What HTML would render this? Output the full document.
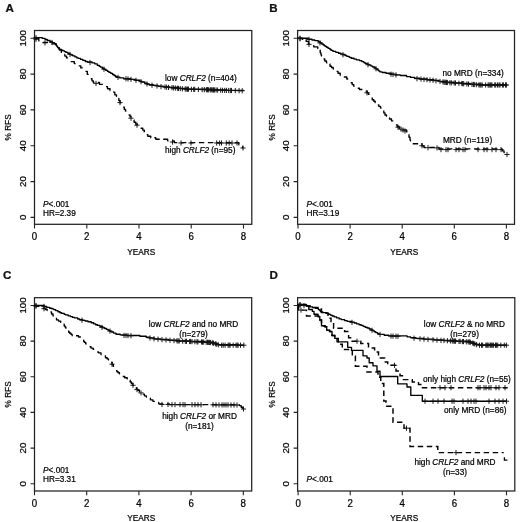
<!DOCTYPE html>
<html><head><meta charset="utf-8"><title>Figure</title>
<style>
html,body{margin:0;padding:0;background:#fff;}
svg{display:block;filter:grayscale(1) blur(0.3px);}
text{font-family:"Liberation Sans",sans-serif;fill:#000;stroke:#000;stroke-width:0.22px;}
.t{font-size:9.7px;}
.s{font-size:8.25px;}
.i{font-style:italic;}
.b{font-size:11.6px;font-weight:bold;fill:#111;}
.sol{fill:none;stroke:#000;stroke-width:1.35;stroke-linejoin:round;}
.das{fill:none;stroke:#000;stroke-width:1.45;stroke-dasharray:5.4 3.6;}
.cm{fill:none;stroke:#111;stroke-width:0.95;}
</style></head>
<body>
<svg width="520" height="522" viewBox="0 0 520 522">
<rect width="520" height="522" fill="#fff"/>
<rect x="34.5" y="30.5" width="217.3" height="193.8" fill="none" stroke="#222" stroke-width="1.25"/>
<path d="M34.5,224.3v4.2M86.8,224.3v4.2M139.0,224.3v4.2M191.2,224.3v4.2M243.5,224.3v4.2M34.5,217.4h-4M34.5,181.6h-4M34.5,145.8h-4M34.5,109.9h-4M34.5,74.1h-4M34.5,38.3h-4" stroke="#222" stroke-width="1.1" fill="none"/>
<text transform="translate(34.5,240.3) scale(1,1.1)" text-anchor="middle" class="t">0</text>
<text transform="translate(86.8,240.3) scale(1,1.1)" text-anchor="middle" class="t">2</text>
<text transform="translate(139.0,240.3) scale(1,1.1)" text-anchor="middle" class="t">4</text>
<text transform="translate(191.2,240.3) scale(1,1.1)" text-anchor="middle" class="t">6</text>
<text transform="translate(243.5,240.3) scale(1,1.1)" text-anchor="middle" class="t">8</text>
<text transform="translate(26,217.4) rotate(-90)" text-anchor="middle" class="t">0</text>
<text transform="translate(26,181.6) rotate(-90)" text-anchor="middle" class="t">20</text>
<text transform="translate(26,145.8) rotate(-90)" text-anchor="middle" class="t">40</text>
<text transform="translate(26,109.9) rotate(-90)" text-anchor="middle" class="t">60</text>
<text transform="translate(26,74.1) rotate(-90)" text-anchor="middle" class="t">80</text>
<text transform="translate(26,38.3) rotate(-90)" text-anchor="middle" class="t">100</text>
<text transform="translate(11,127.4) rotate(-90)" text-anchor="middle" class="s">% RFS</text>
<text x="141.2" y="254.9" text-anchor="middle" class="s">YEARS</text>
<text x="5.5" y="12.2" class="b">A</text>
<polyline points="34.8,37.6 42.3,37.6 42.3,38.3 45.0,38.3 45.0,39.5 47.3,39.5 47.3,40.5 50.0,40.5 50.0,41.7 52.3,41.7 52.3,42.6 54.3,42.6 54.3,43.5 55.3,43.5 55.3,44.2 56.3,44.2 56.3,45.5 56.8,45.5 56.8,46.2 57.5,46.2 57.5,47.2 58.0,47.2 58.0,47.8 58.8,47.8 58.8,48.8 60.0,48.8 60.0,49.4 61.5,49.4 61.5,50.2 63.0,50.2 63.0,50.9 64.5,50.9 64.5,51.6 66.0,51.6 66.0,52.4 68.0,52.4 68.0,53.4 69.8,53.4 69.8,54.3 71.3,54.3 71.3,55.0 72.8,55.0 72.8,55.8 75.0,55.8 75.0,56.9 76.8,56.9 76.8,57.8 78.3,57.8 78.3,58.4 80.5,58.4 80.5,59.4 82.8,59.4 82.8,60.4 85.3,60.4 85.3,61.5 87.5,61.5 87.5,62.0 92.0,62.0 92.0,62.9 94.8,62.9 94.8,63.9 97.3,63.9 97.3,65.3 99.3,65.3 99.3,66.4 100.5,66.4 100.5,67.1 102.3,67.1 102.3,68.2 104.0,68.2 104.0,69.3 105.8,69.3 105.8,70.4 107.5,70.4 107.5,71.4 109.0,71.4 109.0,72.4 110.8,72.4 110.8,73.4 112.5,73.4 112.5,74.5 114.0,74.5 114.0,75.5 115.5,75.5 115.5,76.4 117.0,76.4 117.0,77.2 119.8,77.2 119.8,77.9 123.8,77.9 123.8,78.7 130.8,78.7 130.8,79.4 135.3,79.4 135.3,80.2 139.8,80.2 139.8,81.2 141.8,81.2 141.8,82.0 144.8,82.0 144.8,83.2 147.1,83.2 147.1,84.0 149.1,84.0 149.1,84.7 153.3,84.7 153.3,85.4 157.8,85.4 157.8,86.1 163.3,86.1 163.3,86.8 169.8,86.8 169.8,87.5 178.8,87.5 178.8,88.4 187.1,88.4 187.1,89.2 211.6,89.2 211.6,89.9 227.1,89.9 227.1,90.4 243.5,90.4 243.5,90.8" class="sol"/>
<path d="M34.8,38.5 L38.8,38.5 L38.8,40.8 L39.5,40.8M42.7,42.3 L48.1,42.3M51.6,43.9 L56.3,43.9 L56.3,45.4 L56.5,45.4M58.5,47.7 L59.3,47.7 L59.3,50.0 L61.3,50.0 L61.3,52.3 L61.9,52.3M64.3,54.5 L64.8,54.5 L64.8,56.1 L66.5,56.1 L66.5,57.9 L68.1,57.9M70.7,61.6 L74.3,61.6 L74.3,63.6 L75.6,63.6M78.7,65.8 L80.8,65.8 L80.8,67.9 L82.8,67.9M85.5,71.3 L87.3,71.3 L87.3,74.3 L88.7,74.3M90.8,78.7 L92.0,78.7 L92.0,80.8 L93.3,80.8 L93.3,82.5 L94.4,82.5M97.8,82.5 L99.5,82.5 L99.5,84.3 L102.8,84.3M105.9,86.6 L107.5,86.6 L107.5,88.7 L110.0,88.7 L110.0,90.6 L110.3,90.6M113.0,92.1 L114.8,92.1 L114.8,94.8 L116.5,94.8 L116.5,96.4 L116.8,96.4M118.6,98.2 L118.8,98.2 L118.8,100.5 L120.0,100.5 L120.0,102.7 L121.2,102.7M123.1,107.1 L124.3,107.1 L124.3,109.4 L125.5,109.4 L125.5,111.0 L126.4,111.0M128.6,115.0 L130.1,115.0 L130.1,116.9 L131.8,116.9M134.0,119.9 L134.1,119.9 L134.1,122.2 L135.8,122.2 L135.8,124.2 L137.9,124.2M140.6,128.2 L142.8,128.2 L142.8,130.1 L144.3,130.1 L144.3,131.9 L144.4,131.9M146.7,134.6 L147.8,134.6 L147.8,136.2 L150.8,136.2 L150.8,137.7 L151.0,137.7M154.4,137.7 L155.8,137.7 L155.8,139.2 L159.7,139.2M163.2,139.2 L167.6,139.2 L167.6,140.8 L168.6,140.8M172.1,140.8 L174.3,140.8 L174.3,142.6 L177.3,142.6M180.9,142.6 L186.3,142.6M189.9,142.6 L195.3,142.6M198.9,142.6 L204.3,142.6M207.9,142.6 L213.3,142.6M216.9,142.6 L222.3,142.6M225.9,142.6 L231.3,142.6M234.9,142.6 L238.8,142.6 L238.8,144.8 L239.3,144.8M242.1,146.6 L242.6,146.6 L242.6,147.9 L242.7,147.9 L242.7,148.0" class="sol"/>
<path d="M36.0,35.1V40.3M33.4,37.7H38.6M52.0,39.9V45.1M49.4,42.5H54.6M70.0,51.8V57.0M67.4,54.4H72.6M90.0,59.9V65.1M87.4,62.5H92.6M104.0,66.6V71.8M101.4,69.2H106.6M118.0,74.8V80.0M115.4,77.4H120.6M126.0,76.1V81.3M123.4,78.7H128.6M128.0,76.3V81.5M125.4,78.9H130.6M131.0,76.8V82.0M128.4,79.4H133.6M136.0,77.7V82.9M133.4,80.3H138.6M141.0,79.1V84.3M138.4,81.7H143.6M147.0,81.4V86.6M144.4,84.0H149.6M152.0,82.6V87.8M149.4,85.2H154.6M157.0,83.4V88.6M154.4,86.0H159.6M161.0,84.0V89.2M158.4,86.6H163.6M165.0,84.4V89.6M162.4,87.0H167.6M166.6,84.6V89.8M164.0,87.2H169.2M168.5,84.8V90.0M165.9,87.4H171.1M172.0,85.1V90.3M169.4,87.7H174.6M173.6,85.3V90.5M171.0,87.9H176.2M175.4,85.5V90.7M172.8,88.1H178.0M177.4,85.7V90.9M174.8,88.3H180.0M178.5,85.8V91.0M175.9,88.4H181.1M180.3,86.0V91.2M177.7,88.6H182.9M182.4,86.2V91.4M179.8,88.8H185.0M185.2,86.4V91.6M182.6,89.0H187.8M186.2,86.5V91.7M183.6,89.1H188.8M187.5,86.6V91.8M184.9,89.2H190.1M188.5,86.6V91.8M185.9,89.2H191.1M191.4,86.7V91.9M188.8,89.3H194.0M193.7,86.8V92.0M191.1,89.4H196.3M194.7,86.8V92.0M192.1,89.4H197.3M198.4,86.9V92.1M195.8,89.5H201.0M202.1,87.0V92.2M199.5,89.6H204.7M204.3,87.1V92.3M201.7,89.7H206.9M206.4,87.1V92.3M203.8,89.7H209.0M207.5,87.1V92.3M204.9,89.7H210.1M208.4,87.2V92.4M205.8,89.8H211.0M210.2,87.2V92.4M207.6,89.8H212.8M211.2,87.2V92.4M208.6,89.8H213.8M212.3,87.3V92.5M209.7,89.9H214.9M213.5,87.3V92.5M210.9,89.9H216.1M214.4,87.4V92.6M211.8,90.0H217.0M216.1,87.4V92.6M213.5,90.0H218.7M217.6,87.5V92.7M215.0,90.1H220.2M220.7,87.6V92.8M218.1,90.2H223.3M222.5,87.7V92.9M219.9,90.3H225.1M224.7,87.8V93.0M222.1,90.4H227.3M226.4,87.8V93.0M223.8,90.4H229.0M228.7,87.9V93.1M226.1,90.5H231.3M230.3,87.9V93.1M227.7,90.5H232.9M231.5,87.9V93.1M228.9,90.5H234.1M235.3,88.0V93.2M232.7,90.6H237.9M239.1,88.1V93.3M236.5,90.7H241.7M242.2,88.2V93.4M239.6,90.8H244.8" class="cm"/>
<path d="M36.0,36.6V41.8M33.4,39.2H38.6M45.0,40.3V45.5M42.4,42.9H47.6M96.0,80.8V86.0M93.4,83.4H98.6M120.0,100.0V105.2M117.4,102.6H122.6M131.0,115.6V120.8M128.4,118.2H133.6M137.0,122.6V127.8M134.4,125.2H139.6M172.5,139.4V144.6M169.9,142.0H175.1M181.0,140.4V145.6M178.4,143.0H183.6M191.0,140.4V145.6M188.4,143.0H193.6M216.7,140.4V145.6M214.1,143.0H219.3M219.6,140.4V145.6M217.0,143.0H222.2M221.5,140.4V145.6M218.9,143.0H224.1M226.3,140.4V145.6M223.7,143.0H228.9M229.2,140.4V145.6M226.6,143.0H231.8M232.0,140.4V145.6M229.4,143.0H234.6M237.0,140.4V145.6M234.4,143.0H239.6M243.0,145.4V150.6M240.4,148.0H245.6" class="cm"/>
<text x="165" y="80.8" class="s">low <tspan class="i">CRLF2</tspan> (n=404)</text>
<text x="165" y="153" class="s">high <tspan class="i">CRLF2</tspan> (n=95)</text>
<text x="43" y="206.5" class="s"><tspan class="i">P</tspan>&lt;.001</text>
<text x="43" y="215.8" class="s">HR=2.39</text>
<rect x="297.6" y="30.5" width="216.89999999999998" height="193.8" fill="none" stroke="#222" stroke-width="1.25"/>
<path d="M298.0,224.3v4.2M350.1,224.3v4.2M402.2,224.3v4.2M454.3,224.3v4.2M506.4,224.3v4.2M297.6,217.4h-4M297.6,181.6h-4M297.6,145.8h-4M297.6,109.9h-4M297.6,74.1h-4M297.6,38.3h-4" stroke="#222" stroke-width="1.1" fill="none"/>
<text transform="translate(298.0,240.3) scale(1,1.1)" text-anchor="middle" class="t">0</text>
<text transform="translate(350.1,240.3) scale(1,1.1)" text-anchor="middle" class="t">2</text>
<text transform="translate(402.2,240.3) scale(1,1.1)" text-anchor="middle" class="t">4</text>
<text transform="translate(454.3,240.3) scale(1,1.1)" text-anchor="middle" class="t">6</text>
<text transform="translate(506.4,240.3) scale(1,1.1)" text-anchor="middle" class="t">8</text>
<text transform="translate(288.8,217.4) rotate(-90)" text-anchor="middle" class="t">0</text>
<text transform="translate(288.8,181.6) rotate(-90)" text-anchor="middle" class="t">20</text>
<text transform="translate(288.8,145.8) rotate(-90)" text-anchor="middle" class="t">40</text>
<text transform="translate(288.8,109.9) rotate(-90)" text-anchor="middle" class="t">60</text>
<text transform="translate(288.8,74.1) rotate(-90)" text-anchor="middle" class="t">80</text>
<text transform="translate(288.8,38.3) rotate(-90)" text-anchor="middle" class="t">100</text>
<text transform="translate(274.6,127.4) rotate(-90)" text-anchor="middle" class="s">% RFS</text>
<text x="404.2" y="254.9" text-anchor="middle" class="s">YEARS</text>
<text x="269.2" y="11.7" class="b">B</text>
<polyline points="298.0,38.2 308.2,38.2 308.2,39.2 312.0,39.2 312.0,40.0 314.8,40.0 314.8,40.6 318.2,40.6 318.2,41.7 320.2,41.7 320.2,43.0 321.8,43.0 321.8,44.0 323.2,44.0 323.2,45.0 324.5,45.0 324.5,45.9 325.5,45.9 325.5,46.5 326.8,46.5 326.8,47.4 328.2,47.4 328.2,48.4 330.0,48.4 330.0,49.5 331.2,49.5 331.2,50.4 333.0,50.4 333.0,51.4 335.8,51.4 335.8,52.3 338.5,52.3 338.5,53.2 340.8,53.2 340.8,53.9 342.5,53.9 342.5,54.5 345.0,54.5 345.0,55.5 346.8,55.5 346.8,56.3 349.2,56.3 349.2,57.3 351.2,57.3 351.2,58.2 354.0,58.2 354.0,59.1 356.5,59.1 356.5,59.8 359.5,59.8 359.5,60.6 361.8,60.6 361.8,61.6 363.8,61.6 363.8,62.6 365.2,62.6 365.2,63.4 367.0,63.4 367.0,64.2 368.8,64.2 368.8,65.1 371.0,65.1 371.0,66.1 372.8,66.1 372.8,67.0 374.8,67.0 374.8,67.9 376.0,67.9 376.0,68.8 377.2,68.8 377.2,69.8 378.5,69.8 378.5,70.8 379.8,70.8 379.8,71.8 382.2,71.8 382.2,72.5 386.0,72.5 386.0,73.2 391.0,73.2 391.0,74.2 395.2,74.2 395.2,74.8 400.2,74.8 400.2,75.5 406.5,75.5 406.5,76.6 410.5,76.6 410.5,77.4 414.5,77.4 414.5,78.2 419.8,78.2 419.8,79.0 427.2,79.0 427.2,79.7 433.8,79.7 433.8,80.4 439.0,80.4 439.0,81.3 443.8,81.3 443.8,82.2 453.5,82.2 453.5,82.9 462.2,82.9 462.2,83.5 470.2,83.5 470.2,84.2 480.8,84.2 480.8,85.0 506.5,85.0" class="sol"/>
<path d="M298.0,38.2 L302.2,38.2 L302.2,39.3 L303.2,39.3M306.2,39.3 L306.2,39.3 L306.2,41.4 L308.5,41.4 L308.5,43.9 L309.8,43.9M313.1,45.6 L313.8,45.6 L313.8,46.9 L317.8,46.9 L317.8,48.4 L318.2,48.4M319.8,50.1 L320.2,50.1 L320.2,52.8 L321.0,52.8 L321.0,54.8 L321.5,54.8 L321.5,56.1 L321.7,56.1M323.5,59.0 L324.8,59.0 L324.8,61.0 L326.5,61.0 L326.5,62.7 L327.3,62.7M329.8,64.0 L330.0,64.0 L330.0,66.2 L331.5,66.2 L331.5,67.5 L333.2,67.5 L333.2,69.1 L333.9,69.1M336.6,71.3 L338.0,71.3 L338.0,73.2 L340.2,73.2 L340.2,75.2 L340.7,75.2M343.8,77.0 L346.8,77.0 L346.8,79.0 L348.2,79.0M350.7,82.7 L352.2,82.7 L352.2,84.6 L353.8,84.6 L353.8,86.2 L354.5,86.2M357.7,88.2 L359.5,88.2 L359.5,89.5 L362.4,89.5M365.7,91.2 L367.2,91.2 L367.2,92.9 L368.5,92.9 L368.5,94.4 L369.6,94.4M371.6,97.9 L372.2,97.9 L372.2,99.7 L373.8,99.7 L373.8,101.2 L375.2,101.2 L375.2,102.8 L375.3,102.8M377.8,104.8 L378.8,104.8 L378.8,106.3 L380.5,106.3 L380.5,108.0 L381.5,108.0M383.4,110.9 L383.8,110.9 L383.8,112.9 L385.0,112.9 L385.0,115.0 L386.5,115.0 L386.5,116.3 L386.7,116.3M389.4,117.7 L389.5,117.7 L389.5,119.0 L391.5,119.0 L391.5,120.9 L393.3,120.9M395.9,124.8 L397.2,124.8 L397.2,126.5 L399.2,126.5 L399.2,128.2 L400.0,128.2M403.2,129.8 L406.5,129.8 L406.5,131.8 L407.4,131.8M408.7,134.6 L409.0,134.6 L409.0,137.2 L410.0,137.2 L410.0,139.8 L410.5,139.8 L410.5,141.1 L410.7,141.1M412.7,143.7 L418.1,143.7M421.4,143.7 L422.0,143.7 L422.0,145.7 L424.0,145.7 L424.0,147.5 L425.8,147.5M429.4,147.5 L434.8,147.5M438.2,147.5 L439.0,147.5 L439.0,148.9 L443.4,148.9M447.0,148.9 L452.4,148.9M456.0,148.9 L461.4,148.9M465.0,148.9 L470.4,148.9M474.0,148.9 L479.4,148.9M483.0,148.9 L488.4,148.9M492.0,148.9 L497.4,148.9M501.0,148.9 L502.2,148.9 L502.2,150.8 L504.0,150.8 L504.0,152.5 L504.8,152.5" class="sol"/>
<path d="M300.0,35.7V40.9M297.4,38.3H302.6M309.0,36.8V42.0M306.4,39.4H311.6M320.0,40.3V45.5M317.4,42.9H322.6M343.0,52.1V57.3M340.4,54.7H345.6M368.0,62.1V67.3M365.4,64.7H370.6M376.0,66.2V71.4M373.4,68.8H378.6M391.0,71.6V76.8M388.4,74.2H393.6M393.0,71.9V77.1M390.4,74.5H395.6M396.0,72.3V77.5M393.4,74.9H398.6M417.0,76.1V81.3M414.4,78.7H419.6M421.0,76.5V81.7M418.4,79.1H423.6M424.0,76.8V82.0M421.4,79.4H426.6M427.0,77.1V82.3M424.4,79.7H429.6M430.0,77.4V82.6M427.4,80.0H432.6M433.0,77.7V82.9M430.4,80.3H435.6M436.0,78.2V83.4M433.4,80.8H438.6M440.0,78.9V84.1M437.4,81.5H442.6M443.0,79.4V84.6M440.4,82.0H445.6M444.2,79.6V84.8M441.6,82.2H446.8M445.3,79.7V84.9M442.7,82.3H447.9M446.5,79.8V85.0M443.9,82.4H449.1M447.4,79.9V85.1M444.8,82.5H450.0M449.9,80.1V85.3M447.3,82.7H452.5M451.3,80.2V85.4M448.7,82.8H453.9M454.2,80.4V85.6M451.6,83.0H456.8M455.5,80.4V85.6M452.9,83.0H458.1M458.9,80.7V85.9M456.3,83.3H461.5M461.8,80.9V86.1M459.2,83.5H464.4M462.7,81.0V86.2M460.1,83.6H465.3M463.7,81.1V86.3M461.1,83.7H466.3M466.9,81.3V86.5M464.3,83.9H469.5M468.5,81.5V86.7M465.9,84.1H471.1M472.0,81.8V87.0M469.4,84.4H474.6M473.4,81.9V87.1M470.8,84.5H476.0M474.3,81.9V87.1M471.7,84.5H476.9M476.3,82.1V87.3M473.7,84.7H478.9M478.9,82.3V87.5M476.3,84.9H481.5M480.0,82.4V87.6M477.4,85.0H482.6M481.0,82.4V87.6M478.4,85.0H483.6M482.2,82.4V87.6M479.6,85.0H484.8M485.6,82.4V87.6M483.0,85.0H488.2M488.1,82.4V87.6M485.5,85.0H490.7M489.1,82.4V87.6M486.5,85.0H491.7M490.2,82.4V87.6M487.6,85.0H492.8M491.1,82.4V87.6M488.5,85.0H493.7M492.0,82.4V87.6M489.4,85.0H494.6M494.7,82.4V87.6M492.1,85.0H497.3M495.7,82.4V87.6M493.1,85.0H498.3M497.5,82.4V87.6M494.9,85.0H500.1M499.0,82.4V87.6M496.4,85.0H501.6M500.0,82.4V87.6M497.4,85.0H502.6M502.4,82.4V87.6M499.8,85.0H505.0M503.4,82.4V87.6M500.8,85.0H506.0M505.5,82.4V87.6M502.9,85.0H508.1M506.4,82.4V87.6M503.8,85.0H509.0" class="cm"/>
<path d="M300.0,36.1V41.3M297.4,38.7H302.6M309.0,41.8V47.0M306.4,44.4H311.6M367.0,90.2V95.4M364.4,92.8H369.6M398.0,124.6V129.8M395.4,127.2H400.6M401.0,126.5V131.7M398.4,129.1H403.6M403.0,127.4V132.6M400.4,130.0H405.6M405.0,128.4V133.6M402.4,131.0H407.6M422.0,143.1V148.3M419.4,145.7H424.6M428.0,145.1V150.3M425.4,147.7H430.6M437.0,145.3V150.5M434.4,147.9H439.6M441.0,147.0V152.2M438.4,149.6H443.6M446.0,147.0V152.2M443.4,149.6H448.6M448.0,147.0V152.2M445.4,149.6H450.6M456.0,147.0V152.2M453.4,149.6H458.6M459.0,147.0V152.2M456.4,149.6H461.6M463.0,147.0V152.2M460.4,149.6H465.6M465.0,147.0V152.2M462.4,149.6H467.6M478.0,147.0V152.2M475.4,149.6H480.6M484.0,147.0V152.2M481.4,149.6H486.6M487.0,147.0V152.2M484.4,149.6H489.6M492.0,147.0V152.2M489.4,149.6H494.6M496.0,147.0V152.2M493.4,149.6H498.6M501.0,147.0V152.2M498.4,149.6H503.6M507.0,151.9V157.1M504.4,154.5H509.6" class="cm"/>
<text x="442.5" y="76.3" class="s">no MRD (n=334)</text>
<text x="443" y="143" class="s">MRD (n=119)</text>
<text x="306.5" y="206.5" class="s"><tspan class="i">P</tspan>&lt;.001</text>
<text x="306.5" y="215.8" class="s">HR=3.19</text>
<rect x="34.5" y="297.7" width="217.2" height="193.3" fill="none" stroke="#222" stroke-width="1.25"/>
<path d="M34.5,491v4.2M86.7,491v4.2M138.9,491v4.2M191.1,491v4.2M243.3,491v4.2M34.5,483.8h-4M34.5,448.1h-4M34.5,412.4h-4M34.5,376.8h-4M34.5,341.1h-4M34.5,305.5h-4" stroke="#222" stroke-width="1.1" fill="none"/>
<text transform="translate(34.5,506.7) scale(1,1.1)" text-anchor="middle" class="t">0</text>
<text transform="translate(86.7,506.7) scale(1,1.1)" text-anchor="middle" class="t">2</text>
<text transform="translate(138.9,506.7) scale(1,1.1)" text-anchor="middle" class="t">4</text>
<text transform="translate(191.1,506.7) scale(1,1.1)" text-anchor="middle" class="t">6</text>
<text transform="translate(243.3,506.7) scale(1,1.1)" text-anchor="middle" class="t">8</text>
<text transform="translate(26,483.8) rotate(-90)" text-anchor="middle" class="t">0</text>
<text transform="translate(26,448.1) rotate(-90)" text-anchor="middle" class="t">20</text>
<text transform="translate(26,412.4) rotate(-90)" text-anchor="middle" class="t">40</text>
<text transform="translate(26,376.8) rotate(-90)" text-anchor="middle" class="t">60</text>
<text transform="translate(26,341.1) rotate(-90)" text-anchor="middle" class="t">80</text>
<text transform="translate(26,305.5) rotate(-90)" text-anchor="middle" class="t">100</text>
<text transform="translate(11,394.4) rotate(-90)" text-anchor="middle" class="s">% RFS</text>
<text x="141.2" y="521" text-anchor="middle" class="s">YEARS</text>
<text x="3" y="278.9" class="b">C</text>
<polyline points="34.2,305.5 44.2,305.5 44.2,306.5 46.7,306.5 46.7,307.3 49.7,307.3 49.7,308.2 52.0,308.2 52.0,308.8 53.7,308.8 53.7,309.6 55.7,309.6 55.7,310.6 58.0,310.6 58.0,311.7 60.0,311.7 60.0,312.7 61.7,312.7 61.7,313.3 64.2,313.3 64.2,314.3 65.7,314.3 65.7,314.9 68.2,314.9 68.2,315.8 70.5,315.8 70.5,316.6 72.5,316.6 72.5,317.3 74.5,317.3 74.5,317.9 77.7,317.9 77.7,319.0 79.7,319.0 79.7,319.6 82.5,319.6 82.5,320.3 85.2,320.3 85.2,321.0 88.0,321.0 88.0,321.7 91.2,321.7 91.2,322.7 93.7,322.7 93.7,323.8 95.7,323.8 95.7,324.7 97.5,324.7 97.5,325.4 100.0,325.4 100.0,326.5 102.7,326.5 102.7,327.7 104.7,327.7 104.7,328.5 106.5,328.5 106.5,329.3 108.0,329.3 108.0,330.0 109.2,330.0 109.2,330.7 110.2,330.7 110.2,331.2 111.5,331.2 111.5,332.0 113.5,332.0 113.5,333.1 116.0,333.1 116.0,334.2 120.2,334.2 120.2,334.9 127.0,334.9 127.0,335.5 139.9,335.5 139.9,336.2 146.2,336.2 146.2,337.2 149.7,337.2 149.7,337.9 154.2,337.9 154.2,338.8 160.7,338.8 160.7,339.5 168.4,339.5 168.4,340.1 176.9,340.1 176.9,340.8 190.9,340.8 190.9,341.5 204.2,341.5 204.2,342.2 213.2,342.2 213.2,343.1 215.7,343.1 215.7,343.9 217.9,343.9 217.9,344.6 237.4,344.6 237.4,345.2 243.8,345.2" class="sol"/>
<path d="M34.2,305.5 L37.0,305.5 L37.0,306.4 L39.3,306.4M42.8,308.2 L45.5,308.2 L45.5,309.5 L47.2,309.5 L47.2,310.6 L47.5,310.6M50.5,312.0 L51.5,312.0 L51.5,314.0 L53.0,314.0 L53.0,315.8 L53.9,315.8M56.2,318.2 L56.5,318.2 L56.5,319.9 L58.5,319.9 L58.5,321.1 L60.7,321.1 L60.7,322.4 L60.8,322.4M63.5,324.1 L64.2,324.1 L64.2,325.9 L65.0,325.9 L65.0,326.9 L65.7,326.9 L65.7,328.0 L66.6,328.0M68.7,330.4 L68.7,330.4 L68.7,332.2 L69.7,332.2 L69.7,333.2 L71.0,333.2 L71.0,334.4 L72.2,334.4 L72.2,335.7 L72.5,335.7M76.0,335.7 L78.5,335.7 L78.5,337.0 L80.9,337.0M83.2,340.1 L83.7,340.1 L83.7,341.5 L84.5,341.5 L84.5,342.4 L85.7,342.4 L85.7,343.9 L86.7,343.9M89.6,346.7 L91.0,346.7 L91.0,348.1 L93.2,348.1 L93.2,349.4 L94.2,349.4M97.2,352.0 L98.5,352.0 L98.5,352.8 L101.0,352.8 L101.0,354.5 L101.7,354.5M104.7,356.0 L105.5,356.0 L105.5,357.7 L107.2,357.7 L107.2,358.9 L108.5,358.9 L108.5,359.9 L109.0,359.9M111.2,362.5 L112.2,362.5 L112.2,364.5 L113.2,364.5 L113.2,366.2 L114.1,366.2M116.0,370.6 L117.0,370.6 L117.0,371.7 L118.2,371.7 L118.2,372.7 L119.5,372.7 L119.5,373.8 L120.0,373.8M122.7,376.5 L124.7,376.5 L124.7,377.7 L127.2,377.7 L127.2,379.0 L127.5,379.0M130.0,380.2 L130.2,380.2 L130.2,382.0 L131.4,382.0 L131.4,383.5 L132.9,383.5 L132.9,385.2 L133.5,385.2M135.8,387.6 L136.4,387.6 L136.4,389.2 L137.9,389.2 L137.9,390.4 L139.4,390.4 L139.4,391.7 L139.9,391.7M142.7,394.1 L144.4,394.1 L144.4,395.8 L146.4,395.8 L146.4,397.1 L147.0,397.1M150.0,398.1 L150.4,398.1 L150.4,399.8 L152.9,399.8 L152.9,401.3 L154.8,401.3M158.1,402.4 L158.7,402.4 L158.7,403.8 L163.3,403.8M166.9,403.8 L169.4,403.8 L169.4,404.6 L172.3,404.6M175.9,404.6 L181.3,404.6M184.9,404.6 L190.3,404.6M193.9,404.6 L199.3,404.6M202.9,404.6 L208.3,404.6M211.9,404.6 L217.3,404.6M220.9,404.6 L226.3,404.6M229.9,404.6 L235.3,404.6M238.8,404.6 L239.2,404.6 L239.2,405.6 L241.2,405.6 L241.2,407.2 L242.7,407.2 L242.7,408.5 L242.9,408.5" class="sol"/>
<path d="M36.0,303.0V308.2M33.4,305.6H38.6M44.0,303.8V309.1M41.4,306.4H46.6M82.0,317.6V322.8M79.4,320.2H84.6M102.0,324.8V330.0M99.4,327.4H104.6M110.0,328.5V333.7M107.4,331.1H112.6M124.0,332.8V338.0M121.4,335.4H126.6M126.0,332.9V338.1M123.4,335.5H128.6M128.0,333.0V338.2M125.4,335.6H130.6M131.0,333.1V338.3M128.4,335.7H133.6M150.0,335.4V340.6M147.4,338.0H152.6M154.0,336.2V341.4M151.4,338.8H156.6M158.0,336.6V341.8M155.4,339.2H160.6M162.0,337.0V342.2M159.4,339.6H164.6M166.0,337.3V342.5M163.4,339.9H168.6M170.0,337.6V342.8M167.4,340.2H172.6M174.0,338.0V343.2M171.4,340.6H176.6M177.0,338.2V343.4M174.4,340.8H179.6M178.1,338.3V343.5M175.5,340.9H180.7M179.2,338.4V343.6M176.6,341.0H181.8M182.7,338.6V343.8M180.1,341.2H185.3M185.3,338.7V343.9M182.7,341.3H187.9M186.5,338.7V343.9M183.9,341.3H189.1M189.6,338.9V344.1M187.0,341.5H192.2M190.6,338.9V344.1M188.0,341.5H193.2M192.0,339.0V344.2M189.4,341.6H194.6M194.9,339.1V344.3M192.3,341.7H197.5M197.0,339.2V344.4M194.4,341.8H199.6M197.9,339.3V344.5M195.3,341.9H200.5M201.5,339.4V344.6M198.9,342.0H204.1M202.5,339.5V344.7M199.9,342.1H205.1M203.7,339.5V344.7M201.1,342.1H206.3M206.2,339.7V344.9M203.6,342.3H208.8M207.5,339.7V344.9M204.9,342.3H210.1M208.6,339.8V345.0M206.0,342.4H211.2M209.6,339.8V345.0M207.0,342.4H212.2M210.5,339.9V345.1M207.9,342.5H213.1M212.4,340.2V345.4M209.8,342.8H215.0M213.5,340.6V345.8M210.9,343.2H216.1M215.4,341.2V346.4M212.8,343.8H218.0M216.7,341.6V346.8M214.1,344.2H219.3M218.3,342.2V347.4M215.7,344.8H220.9M221.7,342.6V347.8M219.1,345.2H224.3M223.2,342.6V347.8M220.6,345.2H225.8M225.1,342.6V347.8M222.5,345.2H227.7M228.1,342.6V347.8M225.5,345.2H230.7M229.1,342.6V347.8M226.5,345.2H231.7M230.1,342.6V347.8M227.5,345.2H232.7M233.2,342.6V347.8M230.6,345.2H235.8M236.0,342.6V347.8M233.4,345.2H238.6M237.1,342.6V347.8M234.5,345.2H239.7M238.1,342.6V347.8M235.5,345.2H240.7M240.5,342.6V347.8M237.9,345.2H243.1M243.8,342.6V347.8M241.2,345.2H246.4" class="cm"/>
<path d="M36.0,303.5V308.7M33.4,306.1H38.6M44.0,306.1V311.3M41.4,308.7H46.6M112.0,361.6V366.8M109.4,364.2H114.6M133.0,382.7V387.9M130.4,385.3H135.6M137.0,387.0V392.2M134.4,389.6H139.6M141.0,390.3V395.5M138.4,392.9H143.6M162.0,401.9V407.1M159.4,404.5H164.6M168.0,401.9V407.1M165.4,404.5H170.6M172.0,402.0V407.2M169.4,404.6H174.6M175.0,402.0V407.2M172.4,404.6H177.6M180.0,402.0V407.2M177.4,404.6H182.6M183.0,402.0V407.2M180.4,404.6H185.6M185.0,402.1V407.3M182.4,404.7H187.6M192.0,402.1V407.3M189.4,404.7H194.6M195.0,402.1V407.3M192.4,404.7H197.6M198.0,402.1V407.3M195.4,404.7H200.6M201.0,402.2V407.4M198.4,404.8H203.6M213.0,402.2V407.4M210.4,404.8H215.6M216.0,402.3V407.5M213.4,404.9H218.6M219.0,402.3V407.5M216.4,404.9H221.6M222.0,402.3V407.5M219.4,404.9H224.6M224.0,402.3V407.5M221.4,404.9H226.6M226.0,402.3V407.5M223.4,404.9H228.6M228.0,402.3V407.5M225.4,404.9H230.6M231.0,402.4V407.6M228.4,405.0H233.6M234.0,402.4V407.6M231.4,405.0H236.6M237.0,402.4V407.6M234.4,405.0H239.6M243.5,406.4V411.6M240.9,409.0H246.1" class="cm"/>
<text x="193.5" y="327" text-anchor="middle" class="s">low <tspan class="i">CRLF2</tspan> and no MRD</text>
<text x="193.5" y="337" text-anchor="middle" class="s">(n=279)</text>
<text x="199.5" y="418.5" text-anchor="middle" class="s">high <tspan class="i">CRLF2</tspan> or MRD</text>
<text x="199.5" y="428.5" text-anchor="middle" class="s">(n=181)</text>
<text x="43" y="473" class="s"><tspan class="i">P</tspan>&lt;.001</text>
<text x="43" y="482.3" class="s">HR=3.31</text>
<rect x="297.6" y="297.7" width="217.19999999999993" height="193.3" fill="none" stroke="#222" stroke-width="1.25"/>
<path d="M298.1,491v4.2M350.2,491v4.2M402.3,491v4.2M454.4,491v4.2M506.5,491v4.2M297.6,483.8h-4M297.6,448.1h-4M297.6,412.4h-4M297.6,376.8h-4M297.6,341.1h-4M297.6,305.5h-4" stroke="#222" stroke-width="1.1" fill="none"/>
<text transform="translate(298.1,506.7) scale(1,1.1)" text-anchor="middle" class="t">0</text>
<text transform="translate(350.2,506.7) scale(1,1.1)" text-anchor="middle" class="t">2</text>
<text transform="translate(402.3,506.7) scale(1,1.1)" text-anchor="middle" class="t">4</text>
<text transform="translate(454.4,506.7) scale(1,1.1)" text-anchor="middle" class="t">6</text>
<text transform="translate(506.5,506.7) scale(1,1.1)" text-anchor="middle" class="t">8</text>
<text transform="translate(288.8,483.8) rotate(-90)" text-anchor="middle" class="t">0</text>
<text transform="translate(288.8,448.1) rotate(-90)" text-anchor="middle" class="t">20</text>
<text transform="translate(288.8,412.4) rotate(-90)" text-anchor="middle" class="t">40</text>
<text transform="translate(288.8,376.8) rotate(-90)" text-anchor="middle" class="t">60</text>
<text transform="translate(288.8,341.1) rotate(-90)" text-anchor="middle" class="t">80</text>
<text transform="translate(288.8,305.5) rotate(-90)" text-anchor="middle" class="t">100</text>
<text transform="translate(274.6,394.4) rotate(-90)" text-anchor="middle" class="s">% RFS</text>
<text x="404.3" y="521" text-anchor="middle" class="s">YEARS</text>
<text x="269.5" y="279.2" class="b">D</text>
<polyline points="297.8,304.5 301.6,304.5 301.6,305.1 306.6,305.1 306.6,306.0 309.6,306.0 309.6,306.8 312.6,306.8 312.6,307.6 315.8,307.6 315.8,308.4 318.3,308.4 318.3,309.3 319.1,309.3 319.1,310.0 320.3,310.0 320.3,311.2 321.1,311.2 321.1,312.0 322.8,312.0 322.8,312.6 327.1,312.6 327.1,313.5 328.8,313.5 328.8,314.4 330.8,314.4 330.8,315.3 332.3,315.3 332.3,316.0 334.1,316.0 334.1,316.8 336.6,316.8 336.6,317.8 339.1,317.8 339.1,318.9 341.3,318.9 341.3,319.6 344.6,319.6 344.6,320.6 347.1,320.6 347.1,321.3 351.3,321.3 351.3,322.2 354.3,322.2 354.3,323.0 356.6,323.0 356.6,323.8 359.1,323.8 359.1,324.7 361.1,324.7 361.1,325.4 363.1,325.4 363.1,326.3 365.1,326.3 365.1,327.2 367.1,327.2 367.1,328.0 369.3,328.0 369.3,329.0 371.3,329.0 371.3,329.9 372.8,329.9 372.8,330.8 374.3,330.8 374.3,331.7 375.8,331.7 375.8,332.6 377.6,332.6 377.6,333.6 379.1,333.6 379.1,334.3 384.3,334.3 384.3,335.2 388.8,335.2 388.8,335.9 407.1,335.9 407.1,336.8 410.6,336.8 410.6,337.6 415.8,337.6 415.8,338.4 423.8,338.4 423.8,339.1 434.1,339.1 434.1,339.9 443.6,339.9 443.6,340.5 456.1,340.5 456.1,341.2 468.8,341.2 468.8,341.9 472.1,341.9 472.1,342.8 474.1,342.8 474.1,343.6 476.1,343.6 476.1,344.4 479.1,344.4 479.1,345.2 507.0,345.2" class="sol"/>
<path d="M300.0,302.3V307.5M297.4,304.9H302.6M304.0,303.0V308.2M301.4,305.6H306.6M352.0,319.8V325.0M349.4,322.4H354.6M372.0,327.7V332.9M369.4,330.3H374.6M380.0,331.9V337.1M377.4,334.5H382.6M391.0,333.5V338.7M388.4,336.1H393.6M393.0,333.5V338.7M390.4,336.1H395.6M396.0,333.6V338.8M393.4,336.2H398.6M398.0,333.7V338.9M395.4,336.3H400.6M414.0,335.6V340.8M411.4,338.2H416.6M420.0,336.2V341.4M417.4,338.8H422.6M424.0,336.5V341.7M421.4,339.1H426.6M428.0,336.8V342.0M425.4,339.4H430.6M433.0,337.2V342.4M430.4,339.8H435.6M437.0,337.5V342.7M434.4,340.1H439.6M441.0,337.8V343.0M438.4,340.4H443.6M444.0,337.9V343.1M441.4,340.5H446.6M447.4,338.1V343.3M444.8,340.7H450.0M450.4,338.3V343.5M447.8,340.9H453.0M452.3,338.4V343.6M449.7,341.0H454.9M453.8,338.5V343.7M451.2,341.1H456.4M454.7,338.5V343.7M452.1,341.1H457.3M455.6,338.6V343.8M453.0,341.2H458.2M459.0,338.8V344.0M456.4,341.4H461.6M460.1,338.8V344.0M457.5,341.4H462.7M462.4,339.0V344.2M459.8,341.6H465.0M463.5,339.0V344.2M460.9,341.6H466.1M466.3,339.2V344.4M463.7,341.8H468.9M468.2,339.3V344.5M465.6,341.9H470.8M469.4,339.4V344.6M466.8,342.0H472.0M470.4,339.6V344.8M467.8,342.2H473.0M472.8,340.5V345.7M470.2,343.1H475.4M473.7,340.9V346.1M471.1,343.5H476.3M474.8,341.3V346.5M472.2,343.9H477.4M476.6,342.0V347.2M474.0,344.6H479.2M479.5,342.6V347.8M476.9,345.2H482.1M481.5,342.6V347.8M478.9,345.2H484.1M482.6,342.6V347.8M480.0,345.2H485.2M485.8,342.6V347.8M483.2,345.2H488.4M486.8,342.6V347.8M484.2,345.2H489.4M487.7,342.6V347.8M485.1,345.2H490.3M488.9,342.6V347.8M486.3,345.2H491.5M490.4,342.6V347.8M487.8,345.2H493.0M491.3,342.6V347.8M488.7,345.2H493.9M492.3,342.6V347.8M489.7,345.2H494.9M493.6,342.6V347.8M491.0,345.2H496.2M495.5,342.6V347.8M492.9,345.2H498.1M496.4,342.6V347.8M493.8,345.2H499.0M497.7,342.6V347.8M495.1,345.2H500.3M500.8,342.6V347.8M498.2,345.2H503.4M504.3,342.6V347.8M501.7,345.2H506.9M506.4,342.6V347.8M503.8,345.2H509.0" class="cm"/>
<polyline points="297.8,304.5 306.5,304.5 306.5,306.0 308.8,306.0 308.8,309.5 312.3,309.5 312.3,311.3 314.0,311.3 314.0,314.2 318.0,314.2 318.0,316.5 319.8,316.5 319.8,320.0 321.5,320.0 321.5,325.7 325.0,325.7 325.0,326.8 326.7,326.8 326.7,330.3 329.6,330.3 329.6,331.5 332.0,331.5 332.0,335.5 334.8,335.5 334.8,338.4 337.0,338.4 337.0,341.8 345.4,341.8 347.7,341.8 347.7,347.3 351.5,347.3 351.5,350.4 358.5,350.4 363.0,350.4 363.0,355.8 367.0,355.8 367.0,358.0 369.2,358.0 369.2,362.7 373.0,362.7 373.0,365.8 377.0,365.8 377.0,371.2 380.0,371.2 380.0,376.5 395.4,376.5 397.7,376.5 397.7,383.8 407.0,383.8 407.0,387.0 410.8,387.0 410.8,395.4 418.5,395.4 422.3,395.4 422.3,401.2 506.5,401.2" class="sol"/>
<path d="M425.0,398.6V403.8M422.4,401.2H427.6M433.0,398.6V403.8M430.4,401.2H435.6M438.0,398.6V403.8M435.4,401.2H440.6M444.0,398.6V403.8M441.4,401.2H446.6M452.0,398.6V403.8M449.4,401.2H454.6M454.0,398.6V403.8M451.4,401.2H456.6M463.0,398.6V403.8M460.4,401.2H465.6M468.0,398.6V403.8M465.4,401.2H470.6M471.0,398.6V403.8M468.4,401.2H473.6M474.0,398.6V403.8M471.4,401.2H476.6M476.0,398.6V403.8M473.4,401.2H478.6M489.0,398.6V403.8M486.4,401.2H491.6M495.0,398.6V403.8M492.4,401.2H497.6M499.0,398.6V403.8M496.4,401.2H501.6M503.0,398.6V403.8M500.4,401.2H505.6M506.5,398.6V403.8M503.9,401.2H509.1" class="cm"/>
<polyline points="297.8,304.8 306.5,304.8 306.5,306.0 312.0,306.0 312.0,307.5 318.0,307.5 318.0,309.0 321.5,309.0 321.5,312.4 326.0,312.4 326.0,313.2 328.0,313.2 328.0,318.2 331.0,318.2 331.0,321.4 333.6,321.4 333.6,328.2 344.6,328.2 344.6,331.5 348.6,331.5 348.6,337.8 350.6,337.8 350.6,341.2 360.8,341.2 360.8,343.5 368.5,343.5 368.5,348.0 374.6,348.0 374.6,352.0 378.5,352.0 378.5,358.0 384.6,358.0 384.6,362.0 387.7,362.0 387.7,365.3 396.0,365.3 396.0,371.0 400.0,371.0 400.0,375.8 403.5,375.8 403.5,379.6 412.3,379.6 412.3,382.0 418.5,382.0 418.5,384.5 422.5,384.5 422.5,387.7 507.5,387.7" class="das"/>
<path d="M300.0,302.2V307.4M297.4,304.8H302.6M357.0,338.6V343.8M354.4,341.2H359.6M394.5,362.7V367.9M391.9,365.3H397.1M440.0,385.1V390.3M437.4,387.7H442.6M445.0,385.1V390.3M442.4,387.7H447.6M451.0,385.1V390.3M448.4,387.7H453.6M478.0,385.1V390.3M475.4,387.7H480.6M480.0,385.1V390.3M477.4,387.7H482.6M484.0,385.1V390.3M481.4,387.7H486.6M486.0,385.1V390.3M483.4,387.7H488.6M489.0,385.1V390.3M486.4,387.7H491.6M491.0,385.1V390.3M488.4,387.7H493.6M496.0,385.1V390.3M493.4,387.7H498.6M499.0,385.1V390.3M496.4,387.7H501.6M505.0,385.1V390.3M502.4,387.7H507.6" class="cm"/>
<polyline points="297.8,305.5 298.5,305.5 298.5,310.1 306.5,310.1 306.5,315.9 318.0,315.9 318.0,316.5 319.8,316.5 319.8,320.0 321.5,320.0 321.5,325.7 325.0,325.7 325.0,326.8 326.7,326.8 326.7,330.3 329.6,330.3 329.6,331.5 332.0,331.5 332.0,335.5 334.8,335.5 334.8,338.4 338.3,338.4 338.3,344.2 342.3,344.2 342.3,349.5 352.3,349.5 352.3,356.0 355.4,356.0 355.4,366.2 367.0,366.2 367.0,372.0 378.0,372.0 378.0,377.3 380.8,377.3 380.8,383.5 383.8,383.5 383.8,401.0 386.0,401.0 386.0,406.2 393.0,406.2 393.0,422.3 404.0,422.3 404.0,428.2 410.0,428.2 410.0,446.5 437.8,446.5 437.8,452.6 503.7,452.6" class="das"/>
<path d="M301.0,307.5V312.7M298.4,310.1H303.6M406.5,425.6V430.8M403.9,428.2H409.1M456.0,450.0V455.2M453.4,452.6H458.6" class="cm"/><path d="M504.4,457.3V460.2H507.4" fill="none" stroke="#000" stroke-width="1.3"/>
<text x="423" y="382" class="s">only high <tspan class="i">CRLF2</tspan> (n=55)</text>
<text x="444" y="413" class="s">only MRD (n=86)</text>
<text x="464.4" y="327" text-anchor="middle" class="s">low <tspan class="i">CRLF2</tspan> &amp; no MRD</text>
<text x="464.6" y="337" text-anchor="middle" class="s">(n=279)</text>
<text x="455" y="464.5" text-anchor="middle" class="s">high <tspan class="i">CRLF2</tspan> and MRD</text>
<text x="455" y="474.5" text-anchor="middle" class="s">(n=33)</text>
<text x="306.5" y="482.3" class="s"><tspan class="i">P</tspan>&lt;.001</text>
</svg>
</body></html>
